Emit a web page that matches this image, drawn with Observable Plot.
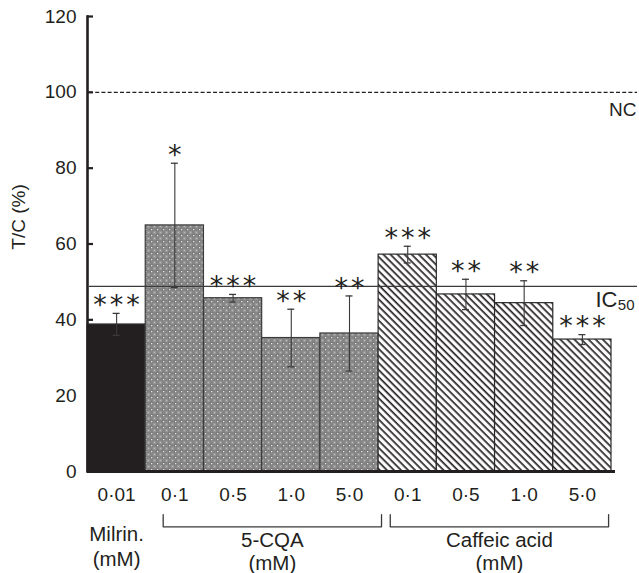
<!DOCTYPE html>
<html>
<head>
<meta charset="utf-8">
<script src="https://cdn.jsdelivr.net/npm/d3@7"></script>
<script src="https://cdn.jsdelivr.net/npm/@observablehq/plot@0.6"></script>
<style>
  html, body { margin: 0; padding: 0; background: #fff; }
  #chart svg { overflow: visible; font-family: "Liberation Sans", Arial, sans-serif; }
  .stars text { letter-spacing: 3px; }
</style>
</head>
<body>
<div id="chart"></div>
<script>
// ---- data ----
const concLabels = ["0·01", "0·1", "0·5", "1·0", "5·0", "0·1", "0·5", "1·0", "5·0"];
const barGroup   = ["milrin", "cqa", "cqa", "cqa", "cqa", "caff", "caff", "caff", "caff"];
const values     = [38.8, 64.9, 45.7, 35.2, 36.4, 57.2, 46.7, 44.4, 34.8];
const errors     = [2.9, 16.4, 1.0, 7.6, 9.9, 2.2, 4.0, 5.9, 1.3];
const stars      = ["***", "*", "***", "**", "**", "***", "**", "**", "***"];
const yTicks     = [0, 20, 40, 60, 80, 100, 120];
const IC50 = 48.8;
const NC = 100;
const groupNames = ["Milrin.", "5-CQA", "Caffeic acid"];
const groupUnits = ["(mM)", "(mM)", "(mM)"];
// bracket spans (in bar-index units) under the compound groups
const bracketStart = [1.3, 5.2];
const bracketEnd   = [5.05, 8.95];

// ---- table ----
const bars = concLabels.map((label, i) => ({
  i, label, group: barGroup[i], value: values[i],
  lo: values[i] - errors[i], hi: values[i] + errors[i], stars: stars[i]
}));
const groups = groupNames.map((name, k) => ({
  name, unit: groupUnits[k],
  cx: k === 0 ? 0.5 : (bracketStart[k - 1] + bracketEnd[k - 1]) / 2
}));
const bracketPts = [];
bracketStart.forEach((s, k) => {
  const e = bracketEnd[k];
  bracketPts.push({k, x: s, y: -11.4}, {k, x: s, y: -14.6}, {k, x: e, y: -14.6}, {k, x: e, y: -11.4});
});

const ink = "#231f20";
const fontSize = 19;
const groupFont = 20.5;

const plot = Plot.plot({
  width: 639,
  height: 573,
  marginTop: 16,
  marginBottom: 102,
  marginLeft: 87,
  marginRight: 28,
  style: { fontFamily: "'Liberation Sans', Arial, sans-serif", fontSize: "19px", color: ink, background: "#fff" },
  x: { type: "linear", domain: [0, 9], axis: null },
  y: { domain: [0, 120], axis: null },
  marks: [
    // bars
    Plot.rectY(bars.filter(d => d.group === "milrin"), { x1: "i", x2: d => d.i + 1, y: "value", fill: ink, stroke: "#3a3a3a", strokeWidth: 1 }),
    Plot.rectY(bars.filter(d => d.group === "cqa"), { x1: "i", x2: d => d.i + 1, y: "value", fill: "url(#dots)", stroke: "#3a3a3a", strokeWidth: 1.2 }),
    Plot.rectY(bars.filter(d => d.group === "caff"), { x1: "i", x2: d => d.i + 1, y: "value", fill: "url(#hatch)", stroke: "#2a2a2a", strokeWidth: 1.2 }),
    // reference lines
    Plot.ruleY([NC], { stroke: ink, strokeWidth: 1.3, strokeDasharray: "4,2.2", insetLeft: 2, insetRight: -26 }),
    Plot.ruleY([IC50], { stroke: "#3a3a3a", strokeWidth: 1.3, insetLeft: 2, insetRight: -26 }),
    // error bars
    Plot.ruleX(bars, { x: d => d.i + 0.5, y1: "lo", y2: "hi", stroke: "#3a3a3a", strokeWidth: 1.1 }),
    Plot.ruleY(bars, { y: "hi", x1: d => d.i + 0.44, x2: d => d.i + 0.56, stroke: "#3a3a3a", strokeWidth: 1.3 }),
    Plot.ruleY(bars, { y: "lo", x1: d => d.i + 0.44, x2: d => d.i + 0.56, stroke: "#3a3a3a", strokeWidth: 1.3 }),
    // significance stars
    Plot.text(bars, { x: d => d.i + 0.5, y: "hi", text: "stars", dy: -8, dx: 1.5, fontSize: 27, fontFamily: "'DejaVu Sans', sans-serif", lineAnchor: "middle", fill: ink, className: "stars" }),
    // axes
    Plot.ruleY([0], { stroke: ink, strokeWidth: 3.2, insetRight: -4 }),
    Plot.frame({ anchor: "left", stroke: ink, strokeWidth: 2.6 }),
    Plot.ruleY(yTicks, { y: d => d, stroke: ink, strokeWidth: 2.2, insetRight: 639 - 87 - 28 - 6 }),
    Plot.text(yTicks, { y: d => d, text: d => String(d), frameAnchor: "left", dx: -11, textAnchor: "end", fontSize: fontSize, fill: ink }),
    Plot.text(["T/C (%)"], { frameAnchor: "left", y: 58.5, dx: -69, rotate: -90, fontSize: fontSize, fill: ink }),
    // x tick labels
    Plot.text(bars, { x: d => d.i + 0.5, y: 0, text: "label", dy: 23, fontSize: fontSize, fill: ink }),
    // brackets
    Plot.line(bracketPts, { x: "x", y: "y", z: "k", stroke: "#3a3a3a", strokeWidth: 1.3 }),
    // group labels
    Plot.text(groups.slice(0, 1), { x: "cx", y: 0, text: "name", dy: 63, fontSize: groupFont, fill: ink }),
    Plot.text(groups.slice(0, 1), { x: "cx", y: 0, text: "unit", dy: 88, fontSize: groupFont, fill: ink }),
    Plot.text(groups.slice(1), { x: "cx", y: 0, text: "name", dy: 69, fontSize: groupFont, fill: ink }),
    Plot.text(groups.slice(1), { x: "cx", y: 0, text: "unit", dy: 92, fontSize: groupFont, fill: ink }),
    // line labels
    Plot.text(["NC"], { y: NC, frameAnchor: "right", dx: 25, dy: 18, textAnchor: "end", fontSize: fontSize, fill: ink }),
    Plot.text(["IC"], { y: IC50, frameAnchor: "right", dx: 6, dy: 13, textAnchor: "end", fontSize: 22, fill: ink }),
    Plot.text(["50"], { y: IC50, frameAnchor: "right", dx: 23, dy: 19, textAnchor: "end", fontSize: 15, fill: ink })
  ]
});

const defs = d3.select(plot).insert("defs", ":first-child");
defs.html(`
  <pattern id="dots" patternUnits="userSpaceOnUse" width="6" height="6">
    <rect width="6" height="6" fill="#858585"/>
    <rect x="3" y="3" width="3" height="3" fill="#979797"/>
    <rect x="0" y="0" width="3" height="3" fill="#7a7a7a"/>
    <rect x="1" y="1" width="1.3" height="1.3" fill="#e6e6e6"/>
    <rect x="4" y="4" width="1" height="1" fill="#bdbdbd"/>
  </pattern>
  <pattern id="hatch" patternUnits="userSpaceOnUse" width="5" height="5" patternTransform="rotate(-45)">
    <rect width="5" height="5" fill="#fff"/>
    <line x1="1.2" y1="0" x2="1.2" y2="5" stroke="#231f20" stroke-width="1.7"/>
  </pattern>
`);

document.getElementById("chart").appendChild(plot);
</script>
</body>
</html>
